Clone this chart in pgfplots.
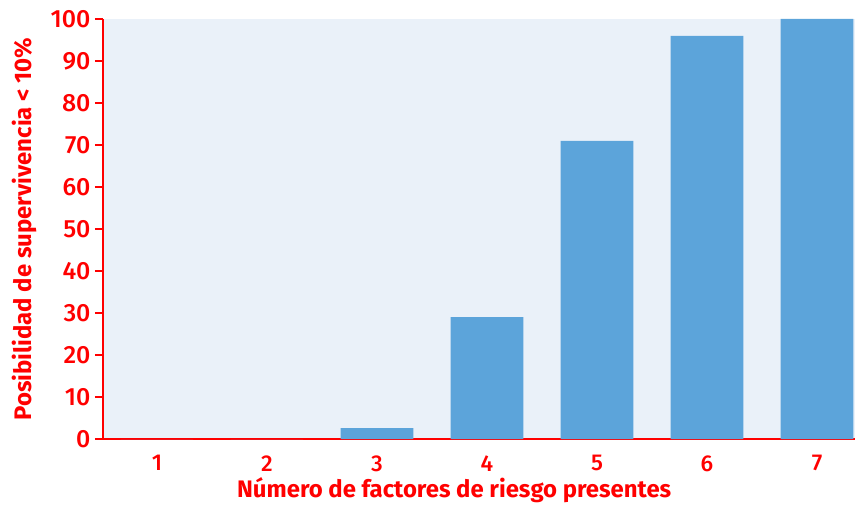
\documentclass[border=0pt]{standalone}
\usepackage{pgfplots}
\pgfplotsset{compat=1.18}
\usepackage{fontspec}
\setmainfont{Fira Sans}[UprightFont={* Medium}, BoldFont={* Bold}]
\definecolor{axred}{HTML}{FF0000}
\definecolor{barblue}{HTML}{5CA4DA}
\definecolor{bgblue}{HTML}{EAF1F9}
\begin{document}
\begin{tikzpicture}
\begin{axis}[
    scale only axis,
    width=752bp, height=420bp,
    xmin=0.51, xmax=7.345,
    ymin=0, ymax=100,
    axis x line*=bottom, axis y line*=left,
    axis line style={axred, line width=2bp, -},
    axis background/.style={fill=bgblue},
    ybar, bar width=0.66,
    xtick={1,...,7}, ytick={0,10,...,100},
    xtick style={draw=none},
    ytick style={axred, line width=2bp},
    tick align=outside, major tick length=8bp,
    /pgf/number format/assume math mode=true,
    xticklabel style={font=\fontsize{23}{27}\selectfont, text=axred, yshift=-5bp},
    yticklabel style={font=\fontsize{25}{29}\selectfont, text=axred, xshift=-1bp},
    xlabel={\textbf{Número de factores de riesgo presentes}},
    ylabel={\textbf{Posibilidad de supervivencia < 10\%}},
    xlabel style={font=\fontsize{24}{28}\selectfont, text=axred,
        at={(axis description cs:0.467,-0.121)}, anchor=center},
    ylabel style={font=\fontsize{24}{28}\selectfont, text=axred,
        at={(axis description cs:-0.105,0.5)}, anchor=center},
]
\addplot[fill=barblue, draw=none] coordinates {
    (1, 0) (2, 0) (3, 2.6) (4, 29) (5, 71) (6, 96) (7, 100)
};
\end{axis}
\path (current axis.south west) ++(-103bp,-68bp);
\path (current axis.north east) ++(7bp,19bp);
\end{tikzpicture}
\end{document}
